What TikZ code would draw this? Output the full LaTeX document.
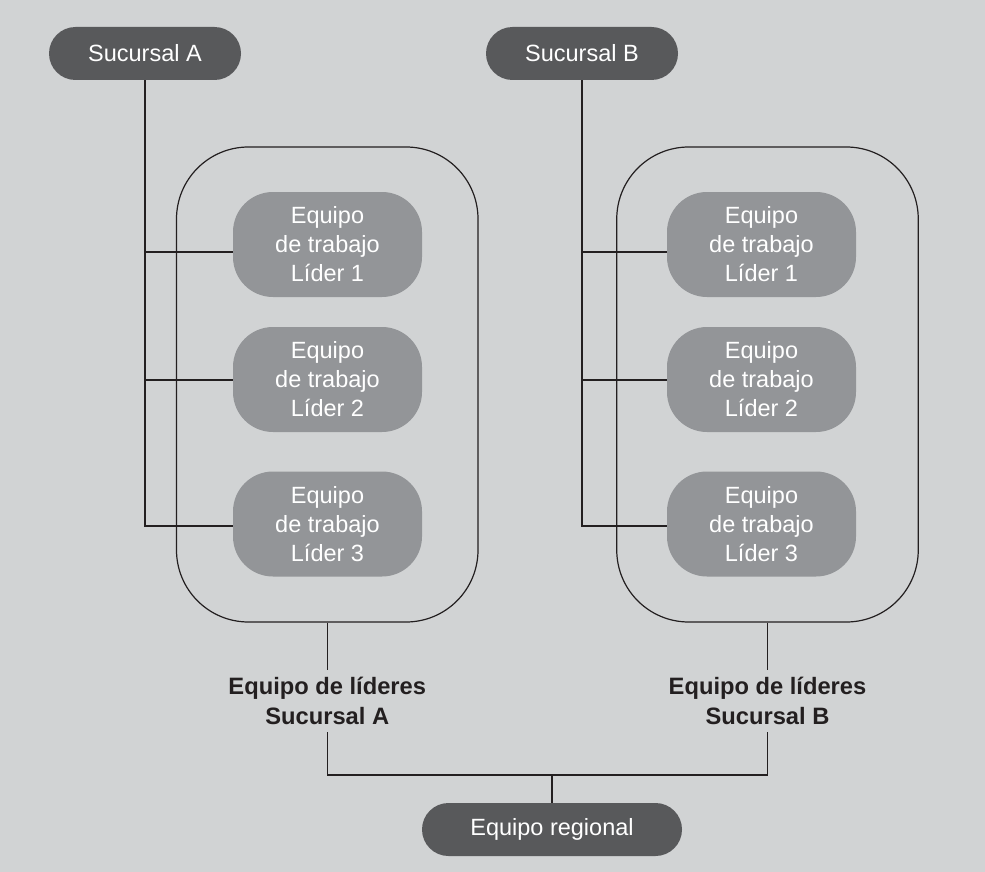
\documentclass[tikz,border=0pt]{standalone}
\usepackage{fontspec}
\setmainfont{Liberation Sans}
\begin{document}
\definecolor{paper}{HTML}{D1D3D4}
\definecolor{pilldark}{HTML}{58595B}
\definecolor{teambox}{HTML}{939598}
\definecolor{ink}{HTML}{231F20}
\begin{tikzpicture}[x=1pt,y=-1pt,
  every node/.style={font=\fontsize{23.5}{29}\selectfont},
  pill/.style={fill=pilldark, text=white, rounded corners=26.5pt,
    minimum width=192pt, minimum height=53pt, inner sep=0pt},
  teamnode/.style={fill=teambox, text=white, rounded corners=40pt,
    minimum width=189pt, minimum height=105pt, inner sep=0pt, align=center},
  groupbox/.style={draw=ink, line width=1.2pt, rounded corners=72pt,
    minimum width=301.5pt, minimum height=475pt, inner sep=0pt},
  grouplabel/.style={text=ink, font=\bfseries\fontsize{23.7}{30}\selectfont,
    align=center, minimum height=62pt, inner sep=0pt},
  link/.style={draw=ink, line width=1.2pt}
]
% page
\fill[paper] (0,0) rectangle (985,872);
\useasboundingbox (0,0) rectangle (985,872);

% branch headers
\node[pill] (SA) at (145,53.5) {Sucursal A};
\node[pill] (SB) at (582,53.5) {Sucursal B};

% leader groups
\node[groupbox] (GA) at (327.25,384.5) {};
\node[groupbox] (GB) at (767.5,384.5) {};

% work teams, branch A
\node[teamnode] (A1) at (327.5,244.5) {Equipo\\de trabajo\\Líder 1};
\node[teamnode] (A2) at (327.5,379.5) {Equipo\\de trabajo\\Líder 2};
\node[teamnode] (A3) at (327.5,524) {Equipo\\de trabajo\\Líder 3};
% work teams, branch B
\node[teamnode] (B1) at (761.5,244.5) {Equipo\\de trabajo\\Líder 1};
\node[teamnode] (B2) at (761.5,379.5) {Equipo\\de trabajo\\Líder 2};
\node[teamnode] (B3) at (761.5,524) {Equipo\\de trabajo\\Líder 3};

% group labels
\node[grouplabel] (LA) at (327.25,701) {Equipo de líderes\\Sucursal A};
\node[grouplabel] (LB) at (767.5,701) {Equipo de líderes\\Sucursal B};

% regional team
\node[pill, minimum width=260pt] (REG) at (552,829.5) {Equipo regional};

% junction heights on the trunks
\coordinate (jA1) at (145,252);
\coordinate (jA2) at (145,380);
\coordinate (jA3) at (145,526);
\coordinate (jB1) at (582,252);
\coordinate (jB2) at (582,380);
\coordinate (jB3) at (582,526);
\coordinate (busmid) at (552,775);

% branch trunks and team links
\draw[link] (SA.south) -- (jA3) -- (jA3 -| A3.west);
\draw[link] (jA1) -- (jA1 -| A1.west);
\draw[link] (jA2) -- (jA2 -| A2.west);
\draw[link] (SB.south) -- (jB3) -- (jB3 -| B3.west);
\draw[link] (jB1) -- (jB1 -| B1.west);
\draw[link] (jB2) -- (jB2 -| B2.west);

% groups to labels, labels to regional team
\draw[link] (GA.south) -- (LA.north);
\draw[link] (GB.south) -- (LB.north);
\draw[link] (LA.south) -- (LA.south |- busmid) -- (LB.south |- busmid) -- (LB.south);
\draw[link] (busmid) -- (REG.north);
\end{tikzpicture}
\end{document}
